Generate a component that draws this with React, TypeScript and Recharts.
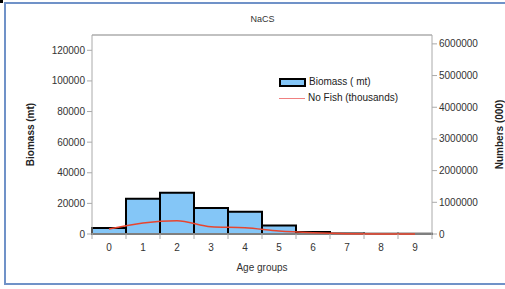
import { Bar, CartesianGrid, ComposedChart, Line, ReferenceLine, XAxis, YAxis } from 'recharts'

const ages = ['0', '1', '2', '3', '4', '5', '6', '7', '8', '9']
const biomass = [4000, 23000, 27000, 17000, 14500, 5500, 1300, 300, 150, 100]
const numbers = [160000, 350000, 420000, 230000, 200000, 95000, 40000, 10000, 3000, 1000]
const biomassTicks = [0, 20000, 40000, 60000, 80000, 100000, 120000]
const numberTicks = [0, 1000000, 2000000, 3000000, 4000000, 5000000, 6000000]

const FONT = '"Liberation Sans", Arial, sans-serif'
const HALF_BAND = 17

const data = ages.map((age, i) => ({ age, biomass: biomass[i], numbers: numbers[i] }))

function AgeTick(props: any) {
  const { x, y, payload, index } = props
  return (
    <g>
      <line x1={x - HALF_BAND} y1={y - 2} x2={x - HALF_BAND} y2={y + 3} stroke="#aaa" />
      {index === ages.length - 1 && (
        <line x1={x + HALF_BAND} y1={y - 2} x2={x + HALF_BAND} y2={y + 3} stroke="#aaa" />
      )}
      <text x={x} y={y + 15} textAnchor="middle" fontSize={10} fill="#333" fontFamily={FONT}>
        {payload.value}
      </text>
    </g>
  )
}

function ChartLegend() {
  return (
    <div
      style={{
        position: 'absolute',
        left: 279,
        top: 74,
        fontFamily: FONT,
        fontSize: 10,
        color: '#222',
        lineHeight: '16px',
      }}
    >
      <div style={{ display: 'flex', alignItems: 'center' }}>
        <span style={{ width: 23, height: 5, background: '#84c6f7', border: '2px solid #000', marginRight: 3 }} />
        Biomass ( mt)
      </div>
      <div style={{ display: 'flex', alignItems: 'center' }}>
        <span style={{ width: 26, height: 0, borderTop: '1.5px solid #f08080', marginRight: 3 }} />
        No Fish (thousands)
      </div>
    </div>
  )
}

export default function App() {
  return (
    <div style={{ position: 'fixed', left: 0, top: 0, width: 505, height: 289, background: '#fff', overflow: 'hidden' }}>
      <div
        style={{
          position: 'absolute',
          left: 4,
          top: 2,
          width: 520,
          height: 283,
          border: '2px solid #7092c8',
          boxSizing: 'border-box',
        }}
      />
      <div style={{ position: 'absolute', left: 0, top: 0, width: 3, height: 3, background: '#000' }} />
      <div
        style={{
          position: 'absolute',
          left: 0,
          width: 525,
          top: 14,
          textAlign: 'center',
          fontFamily: FONT,
          fontSize: 9,
          color: '#333',
        }}
      >
        NaCS
      </div>
      <ComposedChart
        width={505}
        height={289}
        data={data}
        margin={{ top: 35, right: 0, left: 20, bottom: 0 }}
        barCategoryGap={0}
        style={{ position: 'absolute', left: 0, top: 0 }}
      >
        <CartesianGrid vertical={false} stroke="#bdbdbd" strokeWidth={1.5} />
        <XAxis
          dataKey="age"
          height={55}
          tickLine={false}
          tickSize={0}
          axisLine={false}
          tick={<AgeTick />}
          interval={0}
          label={{ value: 'Age groups', position: 'insideBottom', offset: 18, fontSize: 10, fill: '#333', fontFamily: FONT }}
        />
        <YAxis
          yAxisId="left"
          width={72}
          domain={[0, 130000]}
          ticks={biomassTicks}
          tickSize={5}
          stroke="#aaa"
          tick={{ fontSize: 10, fill: '#333', fontFamily: FONT }}
          label={{
            value: 'Biomass (mt)',
            angle: -90,
            position: 'insideLeft',
            offset: 10,
            fontSize: 10,
            fontWeight: 'bold',
            fill: '#222',
            fontFamily: FONT,
            style: { textAnchor: 'middle' },
          }}
        />
        <YAxis
          yAxisId="right"
          orientation="right"
          width={73}
          domain={[0, 6280000]}
          ticks={numberTicks}
          tickSize={5}
          stroke="#aaa"
          tick={{ fontSize: 10, fill: '#333', fontFamily: FONT }}
          label={{
            value: 'Numbers (000)',
            angle: -90,
            position: 'insideRight',
            offset: 6,
            fontSize: 10,
            fontWeight: 'bold',
            fill: '#222',
            fontFamily: FONT,
            style: { textAnchor: 'middle' },
          }}
        />
        <ReferenceLine yAxisId="left" y={130000} stroke="#bdbdbd" strokeWidth={1.5} />
        <ReferenceLine yAxisId="left" y={0} stroke="#aaa" strokeWidth={1.5} />
        <Bar
          yAxisId="left"
          dataKey="biomass"
          name="Biomass ( mt)"
          fill="#84c6f7"
          stroke="#000"
          strokeWidth={2}
          isAnimationActive={false}
        />
        <Line
          yAxisId="right"
          type="monotone"
          dataKey="numbers"
          name="No Fish (thousands)"
          stroke="#e8452e"
          strokeWidth={1.5}
          dot={false}
          isAnimationActive={false}
        />
      </ComposedChart>
      <ChartLegend />
    </div>
  )
}
